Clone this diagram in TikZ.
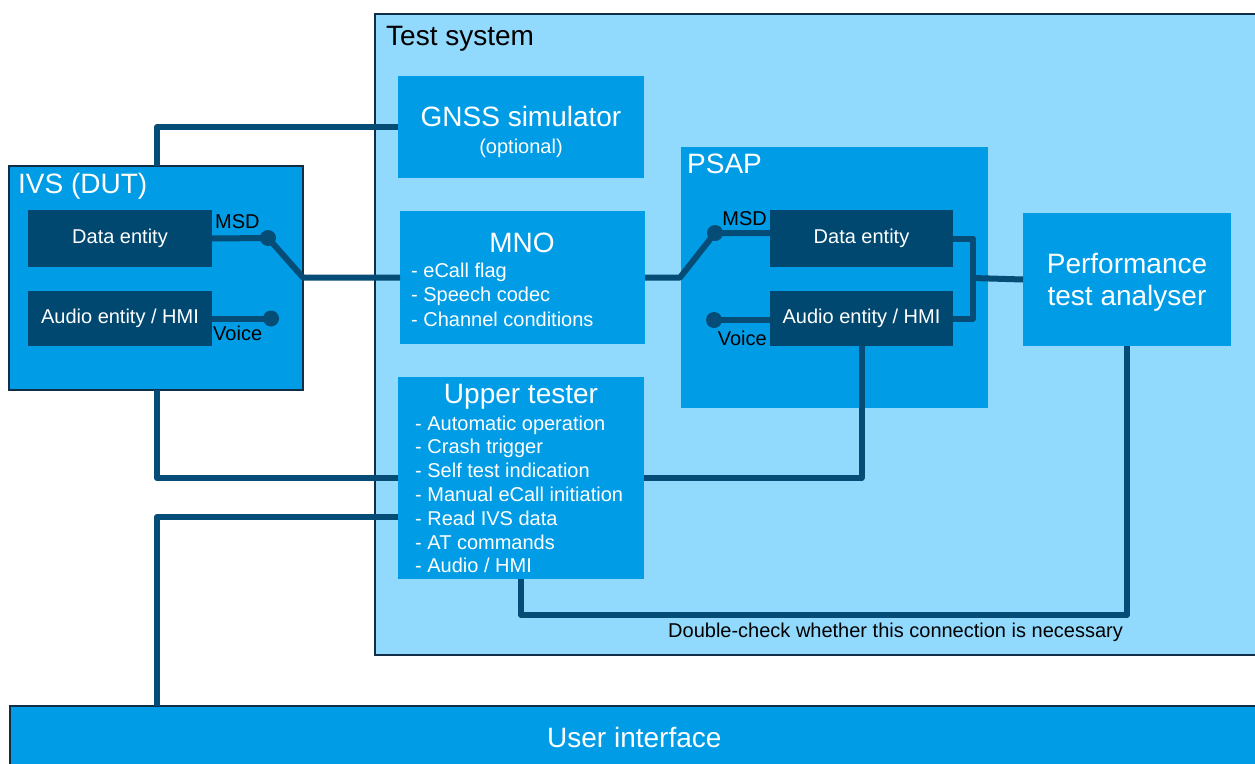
\documentclass[tikz,border=0pt]{standalone}
\usepackage{fontspec}
\setmainfont{Liberation Sans}
\definecolor{lightblue}{RGB}{146,217,254}
\definecolor{midblue}{RGB}{0,157,230}
\definecolor{darkfill}{RGB}{0,72,112}
\definecolor{linecol}{RGB}{5,76,118}
\definecolor{bordercol}{RGB}{18,46,70}
\tikzset{
  sysbox/.style={draw=bordercol, line width=2.5pt, fill=lightblue, inner sep=0pt, outer sep=0pt, anchor=north west},
  bluebox/.style={fill=midblue, inner sep=0pt, outer sep=0pt, anchor=north west},
  ivsbox/.style={draw=bordercol, line width=2.5pt, fill=midblue, inner sep=0pt, outer sep=0pt, anchor=north west},
  darkbox/.style={fill=darkfill, inner sep=0pt, outer sep=0pt, anchor=north west, text=white, font=\fontsize{20}{24}\selectfont},
  conn/.style={draw=linecol, line width=6pt, line join=round},
  swdot/.style={circle, fill=linecol, minimum size=16pt, inner sep=0pt},
  bigw/.style={font=\fontsize{28}{33}\selectfont, text=white, inner sep=0pt},
  bigk/.style={font=\fontsize{28}{33}\selectfont, text=black, inner sep=0pt},
  smallw/.style={font=\fontsize{20}{24}\selectfont, text=white, inner sep=0pt},
  smallk/.style={font=\fontsize{20}{24}\selectfont, text=black, inner sep=0pt},
}
\begin{document}
\begin{tikzpicture}[x=1pt, y=-1pt]
\useasboundingbox (0,0) rectangle (1255,763);
\fill[white] (0,0) rectangle (1255,763);

% containers
\node[sysbox, minimum width=910, minimum height=641] (ts) at (375,14) {};
\node[sysbox, fill=midblue, minimum width=1275, minimum height=100] (ui) at (10,706) {};
\node[ivsbox, minimum width=294, minimum height=224] (ivs) at (9,166) {};
\node[bluebox, minimum width=307, minimum height=261] (psap) at (681,147) {};

% blue blocks
\node[bluebox, minimum width=246, minimum height=102] (gnss) at (398,76) {};
\node[bluebox, minimum width=245, minimum height=133] (mno) at (400,211) {};
\node[bluebox, minimum width=246, minimum height=202] (ut) at (398,377) {};
\node[bluebox, minimum width=208, minimum height=133] (pta) at (1023,213) {};

% dark entities
\node[darkbox, minimum width=184, minimum height=57] (ivsdata) at (28,210) {Data entity};
\node[darkbox, minimum width=184, minimum height=55] (ivsaudio) at (28,291) {Audio entity / HMI};
\node[darkbox, minimum width=183, minimum height=57] (psapdata) at (770,210) {Data entity};
\node[darkbox, minimum width=183, minimum height=55] (psapaudio) at (770,291) {Audio entity / HMI};

% titles and texts
\node[bigk, anchor=base west] (tstitle) at (386,45) {Test system};
\node[bigw, anchor=base west] (ivstitle) at (18,193) {IVS (DUT)};
\node[bigw, anchor=base west] (psaptitle) at (687,173) {PSAP};
\node[bigw, anchor=base] (gnsst) at (521,126) {GNSS simulator};
\node[smallw, anchor=base] (gnsso) at (521,153) {(optional)};
\node[bigw, anchor=base] (mnot) at (522,252) {MNO};
\node[smallw, anchor=base west] (mno1) at (411,277) {- eCall flag};
\node[smallw, anchor=base west] (mno2) at (411,301.5) {- Speech codec};
\node[smallw, anchor=base west] (mno3) at (411,326) {- Channel conditions};
\node[bigw, anchor=base] (utt) at (521,403) {Upper tester};
\node[smallw, anchor=base west] (ut1) at (415,430) {- Automatic operation};
\node[smallw, anchor=base west] (ut2) at (415,453.8) {- Crash trigger};
\node[smallw, anchor=base west] (ut3) at (415,477.6) {- Self test indication};
\node[smallw, anchor=base west] (ut4) at (415,501.4) {- Manual eCall initiation};
\node[smallw, anchor=base west] (ut5) at (415,525.2) {- Read IVS data};
\node[smallw, anchor=base west] (ut6) at (415,549) {- AT commands};
\node[smallw, anchor=base west] (ut7) at (415,572.8) {- Audio / HMI};
\node[bigw, anchor=base] (ptat1) at (1127,273) {Performance};
\node[bigw, anchor=base] (ptat2) at (1127,305) {test analyser};
\node[bigw, anchor=base west] (uit) at (547,747) {User interface};
\node[smallk, anchor=base west] (note) at (668,637) {Double-check whether this connection is necessary};
\node[smallk, anchor=base west] (ivsmsdl) at (215,228) {MSD};
\node[smallk, anchor=base west] (ivsvoicel) at (213,340) {Voice};
\node[smallk, anchor=base east] (psapmsdl) at (767,225) {MSD};
\node[smallk, anchor=base east] (psapvoicel) at (767,345) {Voice};

% switch points
\node[swdot] (ivsmsd) at (268,238) {};
\node[swdot] (ivsvoice) at (271,318.5) {};
\node[swdot] (psapmsd) at (715,233) {};
\node[swdot] (psapvoice) at (714,320) {};
\coordinate (ivssw) at (303,277.5);
\coordinate (psapsw) at (680,277.5);
\coordinate (col) at (157,0);
\coordinate (br) at (973,278);
\coordinate (utb) at (398,517);
\coordinate (lowline) at (0,615);

% connectors
\draw[conn] (ivs.north -| col) |- (gnss.west);
\draw[conn] (ivsdata.east) -- (ivsmsd.center);
\draw[conn] (ivsaudio.east) -- (ivsvoice.center);
\draw[conn] (ivsmsd.center) -- (ivssw) -- (mno.west);
\draw[conn] (mno.east) -- (psapsw) -- (psapmsd.center) -- (psapdata.west |- psapmsd);
\draw[conn] (psapvoice.center) -- (psapaudio.west |- psapvoice);
\draw[conn] (psapdata.east) -| (br) |- (psapaudio.east);
\draw[conn] (br) -- (pta.west);
\draw[conn] (ivs.south -| col) |- (ut.west);
\draw[conn] (ui.north -| col) |- (utb);
\draw[conn] (ut.east) -| (psapaudio.south);
\draw[conn] (ut.south) -- (ut.south |- lowline) -| (pta.south);
\end{tikzpicture}
\end{document}
